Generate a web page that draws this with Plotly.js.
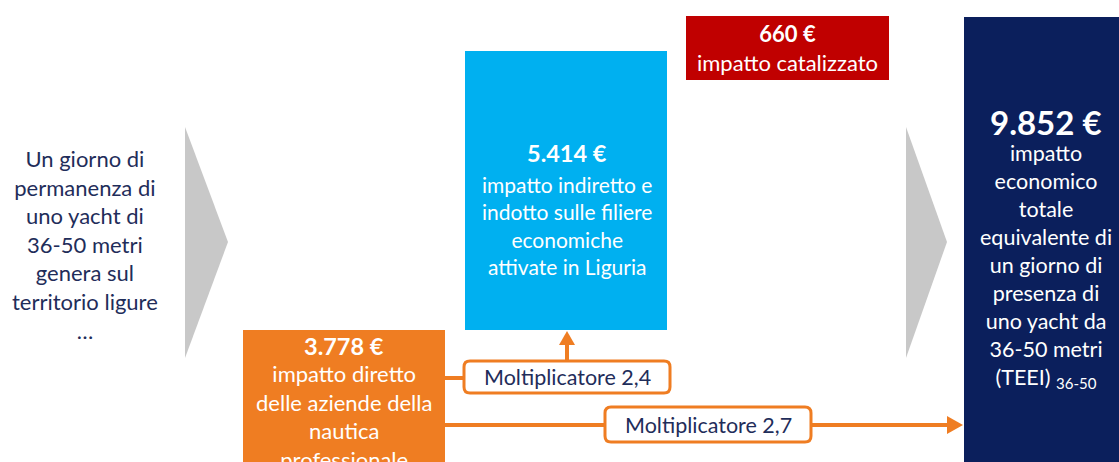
<!DOCTYPE html>
<html><head><meta charset="utf-8">
<script src="https://cdn.plot.ly/plotly-3.0.1.min.js"></script>
<style>html,body{margin:0;padding:0;background:#fff;}#chart{width:1119px;height:462px;}</style>
</head><body><div id="chart"></div>
<script>
// ---- data ----
const categories = ["Impatto diretto", "Impatto indiretto e indotto", "Impatto catalizzato", "Impatto totale (TEEI)"];
const directValue = 3778;
const indirectValue = 5414;
const catalyzedValue = 660;
const totalValue = 9852;
const valueLabels = ["3.778 €", "5.414 €", "660 €", "9.852 €"];
const descriptions = [
  "impatto diretto<br>delle aziende della<br>nautica<br>professionale",
  "impatto indiretto e<br>indotto sulle filiere<br>economiche<br>attivate in Liguria",
  "impatto catalizzato",
  "impatto<br>economico<br>totale<br>equivalente di<br>un giorno di<br>presenza di<br>uno yacht da<br>36-50 metri<br>(TEEI) <sub>36-50</sub>"
];
const multiplierLabels = ["Moltiplicatore 2,4", "Moltiplicatore 2,7"];
const introText = "Un giorno di<br>permanenza di<br>uno yacht di<br>36-50 metri<br>genera sul<br>territorio ligure<br>…";

// ---- derived ----
const barValues = [directValue, indirectValue, catalyzedValue, totalValue];
const barBases = [0, directValue, directValue + indirectValue, 0];

// ---- style ----
const W = 1119, H = 462;
const ORANGE = "#ef7d22", BLUE = "#00b0f0", RED = "#c00000", NAVY = "#0b1f5c", TXT = "#1f2d5a", GREY = "#c8c8c8";
const FONT = "Lato, 'Open Sans', sans-serif";
const px = (x) => x / W;
const py = (y) => 1 - y / H;
const P = (x, y) => px(x).toFixed(5) + "," + py(y).toFixed(5);

function roundRect(x0, y0, x1, y1, r) {
  return "M" + P(x0 + r, y0) + " L" + P(x1 - r, y0) + " Q" + P(x1, y0) + " " + P(x1, y0 + r) +
    " L" + P(x1, y1 - r) + " Q" + P(x1, y1) + " " + P(x1 - r, y1) +
    " L" + P(x0 + r, y1) + " Q" + P(x0, y1) + " " + P(x0, y1 - r) +
    " L" + P(x0, y0 + r) + " Q" + P(x0, y0) + " " + P(x0 + r, y0) + " Z";
}

const trace = {
  type: "bar",
  x: categories,
  y: barValues,
  base: barBases,
  marker: { color: [ORANGE, BLUE, RED, NAVY], line: { width: 0 } },
  width: [0.91, 0.91, 0.91, 0.739],
  offset: [-0.455, -0.455, -0.455, -0.207],
  hoverinfo: "skip",
  showlegend: false
};

const shapes = [
  // grey chevrons
  { type: "path", xref: "paper", yref: "paper", path: "M" + P(185, 127) + " L" + P(228, 242) + " L" + P(185, 358) + " Z", fillcolor: GREY, line: { width: 0 } },
  { type: "path", xref: "paper", yref: "paper", path: "M" + P(906, 127) + " L" + P(947, 242) + " L" + P(906, 358) + " Z", fillcolor: GREY, line: { width: 0 } },
  // connectors
  { type: "line", xref: "paper", yref: "paper", x0: px(445), y0: py(378), x1: px(465), y1: py(378), line: { color: ORANGE, width: 4 } },
  { type: "line", xref: "paper", yref: "paper", x0: px(567), y0: py(360), x1: px(567), y1: py(343), line: { color: ORANGE, width: 4 } },
  { type: "path", xref: "paper", yref: "paper", path: "M" + P(559, 345) + " L" + P(567, 331) + " L" + P(575, 345) + " Z", fillcolor: ORANGE, line: { width: 0 } },
  { type: "line", xref: "paper", yref: "paper", x0: px(445), y0: py(425), x1: px(606), y1: py(425), line: { color: ORANGE, width: 4 } },
  { type: "line", xref: "paper", yref: "paper", x0: px(810), y0: py(425), x1: px(950), y1: py(425), line: { color: ORANGE, width: 4 } },
  { type: "path", xref: "paper", yref: "paper", path: "M" + P(947, 416) + " L" + P(963, 425) + " L" + P(947, 434) + " Z", fillcolor: ORANGE, line: { width: 0 } },
  // multiplier boxes
  { type: "path", xref: "paper", yref: "paper", path: roundRect(464, 361, 670, 393, 6), fillcolor: "#ffffff", line: { color: ORANGE, width: 3 } },
  { type: "path", xref: "paper", yref: "paper", path: roundRect(605, 407, 811, 442, 6), fillcolor: "#ffffff", line: { color: ORANGE, width: 3 } }
];

function ann(x, y, text, size, opts) {
  return Object.assign({
    xref: "paper", yref: "paper", x: px(x), y: py(y), xanchor: "center", yanchor: "middle",
    text: text, showarrow: false, align: "center",
    font: { family: FONT, size: size, color: "#ffffff" }
  }, opts || {});
}

const annotations = [
  ann(85, 244, introText, 22, { font: { family: FONT, size: 22, color: TXT } }),
  // direct
  ann(344, 346, "<b>" + valueLabels[0] + "</b>", 23.5),
  ann(344, 416, descriptions[0], 22),
  // indirect
  ann(567, 153, "<b>" + valueLabels[1] + "</b>", 23.5),
  ann(567, 225, descriptions[1], 21),
  // catalyzed (label panel on the bar)
  ann(787.5, 48, "<b>" + valueLabels[2] + "</b><br>" + descriptions[2], 22,
      { bgcolor: RED, width: 203, height: 64, borderpad: 0, borderwidth: 0 }),
  // total
  ann(1046, 122, "<b>" + valueLabels[3] + "</b>", 33),
  ann(1046, 266, descriptions[3], 21.5),
  // multipliers
  ann(567, 377, multiplierLabels[0], 21.5, { font: { family: FONT, size: 21.5, color: TXT } }),
  ann(708, 425, multiplierLabels[1], 21.5, { font: { family: FONT, size: 21.5, color: TXT } })
];

const layout = {
  width: W, height: H,
  margin: { l: 0, r: 0, t: 0, b: 0 },
  paper_bgcolor: "#ffffff", plot_bgcolor: "#ffffff",
  xaxis: { type: "category", range: [-1.5495, 3.491], visible: false, fixedrange: true },
  yaxis: { range: [1217, 10183], visible: false, fixedrange: true },
  bargap: 0,
  shapes: shapes,
  annotations: annotations,
  hovermode: false,
  showlegend: false
};

Plotly.newPlot("chart", [trace], layout, { displayModeBar: false, staticPlot: true });
</script>
</body></html>
